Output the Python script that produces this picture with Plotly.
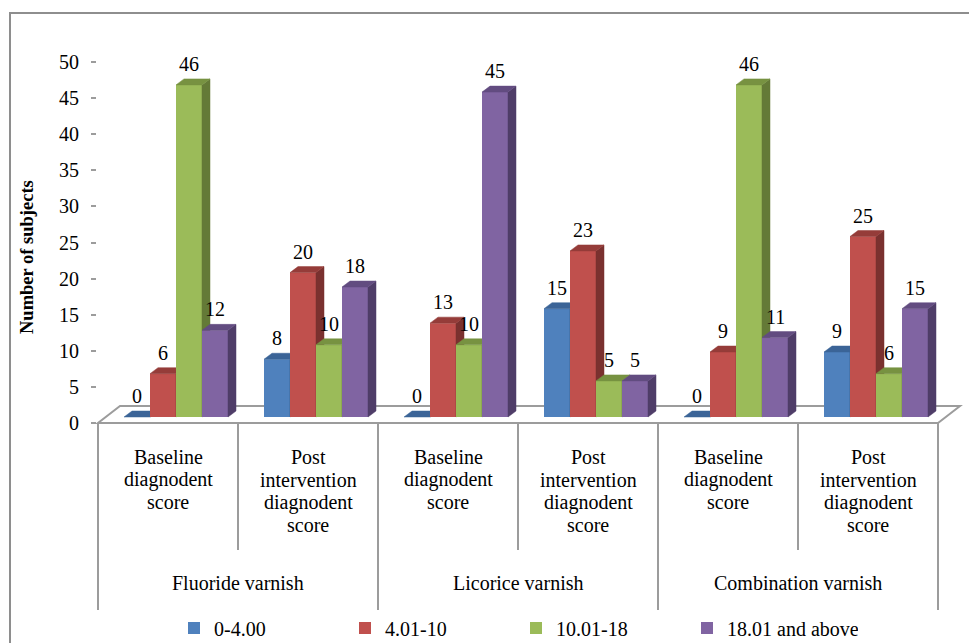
import plotly.graph_objects as go

# ---- data -------------------------------------------------------------
groups = ["Fluoride varnish", "Licorice varnish", "Combination varnish"]
stage_lines = [["Baseline", "diagnodent", "score"],
               ["Post", "intervention", "diagnodent", "score"]]
series_names = ["0-4.00", "4.01-10", "10.01-18", "18.01 and above"]
v_0_4 = [0, 8, 0, 15, 0, 9]
v_4_10 = [6, 20, 13, 23, 9, 25]
v_10_18 = [46, 10, 10, 5, 46, 6]
v_18_up = [12, 18, 45, 5, 11, 15]
y_ticks = [0, 5, 10, 15, 20, 25, 30, 35, 40, 45, 50]
y_title = "Number of subjects"

series_values = [v_0_4, v_4_10, v_10_18, v_18_up]

# ---- styling ----------------------------------------------------------
front_colors = ["#4F81BD", "#C0504D", "#9BBB59", "#8064A2"]
top_colors = ["#3B6497", "#953C39", "#779241", "#624C80"]
side_colors = ["#2F5079", "#7A312F", "#647A37", "#4F3D68"]
grey = "#9C9C9C"
FONT = "Liberation Serif"

W, H = 969, 643
L, R, T, B = 98, 31, 62, 220
plot_w = W - L - R
plot_h = H - T - B
n_cat = len(groups) * len(stage_lines)
ymax = y_ticks[-1]
px_per_x = plot_w / n_cat
px_per_y = plot_h / ymax


def pxx(x):
    """pixel column -> paper x"""
    return (x - L) / plot_w


def pxy(y):
    """pixel row -> paper y"""
    return (H - B - y) / plot_h


bar_w = 26 / px_per_x          # width of a bar's front face (x units)
group_shift = 8 / px_per_x     # bars sit mid-depth on the floor
depth_x = 8 / px_per_x         # 3-D extrusion, horizontal
depth_y = 6 / px_per_y         # 3-D extrusion, vertical
lift = 6 / px_per_y            # bar base sits above the floor front edge

fig = go.Figure()

for j, (name, vals) in enumerate(zip(series_names, series_values)):
    xc = [i + 0.5 + group_shift + (j - 1.5) * bar_w for i in range(n_cat)]
    # front faces
    fig.add_trace(go.Bar(
        x=xc, y=vals, width=bar_w, name=name,
        marker=dict(color=front_colors[j], line=dict(width=0)),
        zorder=3 * j, hoverinfo="skip",
    ))
    # side faces
    sx, sy = [], []
    for x, v in zip(xc, vals):
        xr = x + bar_w / 2
        sx += [xr, xr + depth_x, xr + depth_x, xr, xr, None]
        sy += [0, depth_y, v + depth_y, v, 0, None]
    fig.add_trace(go.Scatter(
        x=sx, y=sy, mode="lines", fill="toself", fillcolor=side_colors[j],
        line=dict(width=0.5, color=side_colors[j]),
        zorder=3 * j + 1, showlegend=False, hoverinfo="skip",
    ))
    # top faces
    tx, ty = [], []
    for x, v in zip(xc, vals):
        xl, xr = x - bar_w / 2, x + bar_w / 2
        tx += [xl, xl + depth_x, xr + depth_x, xr, xl, None]
        ty += [v, v + depth_y, v + depth_y, v, v, None]
    fig.add_trace(go.Scatter(
        x=tx, y=ty, mode="lines", fill="toself", fillcolor=top_colors[j],
        line=dict(width=0.5, color=top_colors[j]),
        zorder=3 * j + 2, showlegend=False, hoverinfo="skip",
    ))
    # value labels
    for x, v in zip(xc, vals):
        fig.add_annotation(
            x=x, y=v, xref="x", yref="y", text=str(v), showarrow=False,
            yanchor="middle", yshift=21,
            font=dict(family=FONT, size=20, color="#000"),
        )

shapes = []
# outer chart border
shapes.append(dict(type="rect", xref="paper", yref="paper",
                   x0=pxx(10), y0=pxy(13), x1=pxx(990), y1=pxy(670),
                   line=dict(color="#8E8E8E", width=2), fillcolor="rgba(0,0,0,0)",
                   layer="below"))
# floor of the 3-D plot
floor_dx, floor_dy = 22, 17
fx0, fx1, fy = L, L + plot_w, H - B
shapes.append(dict(
    type="path", xref="paper", yref="paper",
    path=(f"M{pxx(fx0)},{pxy(fy)} L{pxx(fx1)},{pxy(fy)} "
          f"L{pxx(fx1 + floor_dx)},{pxy(fy - floor_dy)} "
          f"L{pxx(fx0 + floor_dx)},{pxy(fy - floor_dy)} Z"),
    line=dict(color=grey, width=2), fillcolor="white", layer="below"))
# category axis dividers
n_stage = len(stage_lines)
for k in range(n_cat + 1):
    xk = L + k * px_per_x
    bottom = 610 if k % n_stage == 0 else 550
    shapes.append(dict(type="line", xref="paper", yref="paper",
                       x0=pxx(xk), x1=pxx(xk), y0=pxy(fy), y1=pxy(bottom),
                       line=dict(color=grey, width=2)))

annotations = []
# stage labels (inner category level)
for i in range(n_cat):
    lines = stage_lines[i % n_stage]
    for k, line in enumerate(lines):
        annotations.append(dict(
            x=i + 0.5, xref="x", y=pxy(457 + 22.7 * k), yref="paper",
            text=line, showarrow=False, yanchor="middle",
            font=dict(family=FONT, size=20, color="#000")))
# treatment group labels (outer category level)
for g, name in enumerate(groups):
    annotations.append(dict(
        x=g * n_stage + n_stage / 2, xref="x", y=pxy(583), yref="paper",
        text=name, showarrow=False, yanchor="middle",
        font=dict(family=FONT, size=20, color="#000")))
# y-axis title
annotations.append(dict(
    x=pxx(27), xref="paper", y=pxy(257), yref="paper", text=f"<b>{y_title}</b>",
    textangle=-90, showarrow=False, xanchor="center", yanchor="middle",
    font=dict(family=FONT, size=18.5, color="#000")))

for a in annotations:
    fig.add_annotation(**a)

# The value scale sits `lift` above the floor's front edge (3-D depth),
# so the tick marks are drawn on the front edge, offset by the same amount.
fig.update_layout(
    width=W, height=H,
    margin=dict(l=L, r=R, t=T, b=B, pad=0, autoexpand=False),
    paper_bgcolor="white", plot_bgcolor="rgba(0,0,0,0)",
    barmode="overlay",
    font=dict(family=FONT, size=20, color="#000"),
    shapes=shapes,
    xaxis=dict(range=[0, n_cat], visible=False, fixedrange=True),
    yaxis=dict(range=[-lift, ymax - lift],
               tickmode="array",
               tickvals=[t - lift for t in y_ticks],
               ticktext=[str(t) for t in y_ticks],
               ticks="outside", ticklen=5,
               tickwidth=2, tickcolor=grey, showline=True, linecolor=grey,
               linewidth=2, showgrid=False, zeroline=False,
               tickfont=dict(family=FONT, size=20, color="#000"),
               ticklabelstandoff=8),
    legend=dict(orientation="h", x=pxx(174), xanchor="left", y=pxy(628),
                yanchor="middle", font=dict(family=FONT, size=20, color="#000"),
                entrywidth=126, entrywidthmode="pixels",
                bgcolor="rgba(0,0,0,0)", itemwidth=30, traceorder="normal"),
    showlegend=True,
)

fig.write_html("out.html")
